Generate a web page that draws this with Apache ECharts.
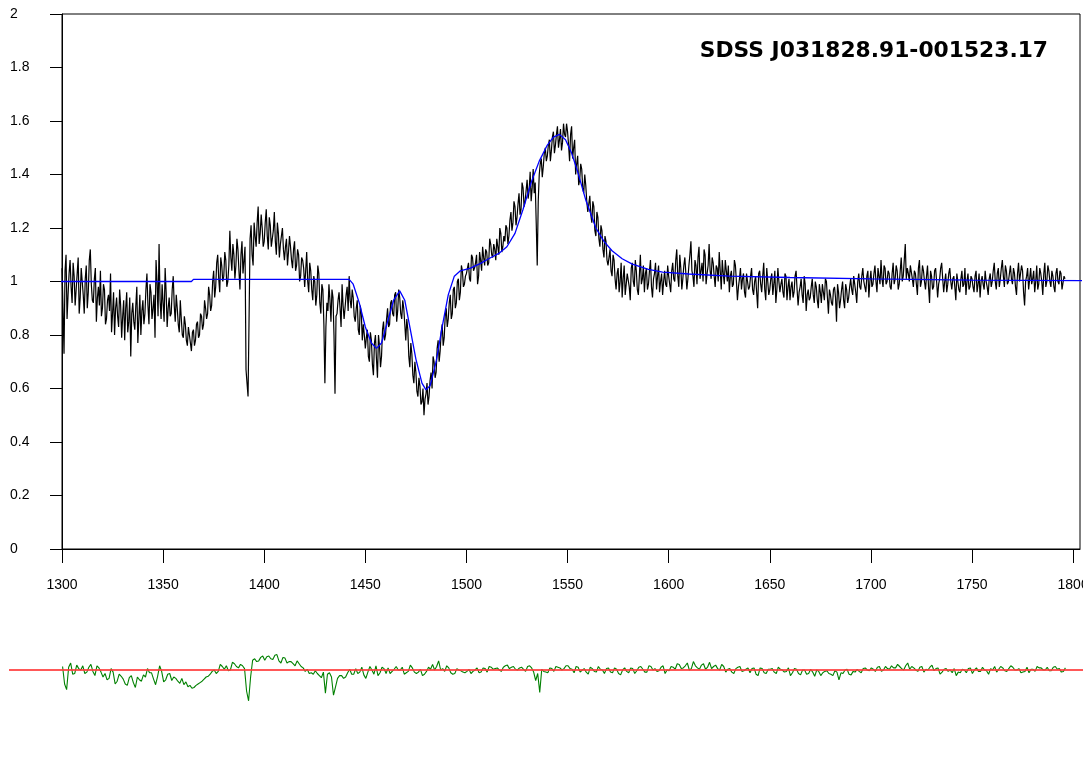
<!DOCTYPE html>
<html>
<head>
<meta charset="UTF-8">
<title>SDSS J031828.91-001523.17</title>
<script src="https://cdn.jsdelivr.net/npm/echarts@6/dist/echarts.min.js"></script>
<style>
  * { margin:0; padding:0; }
  body { background:#fff; }
  #chart { width:1083px; height:775px; }
</style>
</head>
<body>
<div id="chart"></div>
<script>
// spectrum: whole-angstrom samples from 1300, plus the half-angstrom samples between them
const fluxStart = 1300, fluxStep = 1;
const flux = [
  1.05,0.73,1.10,0.95,1.08,0.92,1.02,0.97,1.09,0.94,
  1.00,0.88,1.06,0.96,1.12,0.93,1.01,0.85,0.98,1.04,
  0.90,0.97,0.86,0.95,1.03,0.88,0.80,0.94,0.83,0.91,
  0.87,0.78,0.96,0.85,0.72,0.92,0.82,0.98,0.86,0.80,
  0.93,0.88,1.03,0.84,0.96,0.90,0.79,1.00,1.14,0.86,
  0.92,1.05,0.83,0.94,0.88,1.02,0.85,0.90,0.81,0.86,
  0.79,0.84,0.76,0.80,0.74,0.82,0.78,0.85,0.80,0.87,
  0.84,0.90,0.88,0.95,0.91,1.04,0.98,1.10,0.96,1.06,
  1.02,1.08,1.00,1.19,1.04,1.10,1.06,1.12,0.97,1.15,
  1.08,0.67,0.57,1.16,1.10,1.22,1.13,1.28,1.18,1.20,
  1.15,1.27,1.12,1.21,1.16,1.26,1.10,1.18,1.14,1.20,
  1.08,1.16,1.11,1.13,1.05,1.15,1.06,1.10,1.02,1.08,
  0.98,1.11,0.96,1.04,0.93,1.00,0.95,1.03,0.88,0.97,
  0.62,0.92,0.99,0.85,0.94,0.58,0.88,0.96,0.83,0.91,
  0.86,0.98,1.02,0.90,0.94,0.85,0.93,0.80,0.88,0.84,
  0.75,0.82,0.70,0.78,0.65,0.80,0.64,0.76,0.72,0.85,
  0.80,0.90,0.84,0.93,0.87,0.96,0.89,0.94,0.86,0.90,
  0.78,0.82,0.68,0.73,0.62,0.66,0.57,0.61,0.55,0.50,
  0.58,0.54,0.63,0.60,0.70,0.66,0.78,0.74,0.84,0.79,
  0.90,0.86,0.95,0.88,0.98,0.92,1.01,0.96,1.04,0.99,
  1.03,1.07,1.00,1.09,1.05,1.10,1.02,1.08,1.13,1.06,
  1.11,1.07,1.14,1.09,1.12,1.16,1.10,1.18,1.13,1.15,
  1.20,1.17,1.26,1.22,1.28,1.24,1.33,1.27,1.35,1.30,
  1.38,1.34,1.30,1.42,1.37,1.06,1.40,1.46,1.43,1.50,
  1.47,1.53,1.49,1.56,1.51,1.58,1.53,1.49,1.59,1.54,
  1.56,1.45,1.58,1.50,1.40,1.47,1.38,1.42,1.33,1.36,
  1.26,1.32,1.22,1.28,1.17,1.24,1.13,1.19,1.09,1.15,
  1.06,1.12,1.02,1.08,0.97,1.05,1.00,0.94,1.06,0.99,
  1.03,0.93,1.07,0.98,1.04,0.95,1.10,1.01,0.96,1.05,
  0.99,1.08,0.94,1.03,0.97,1.06,1.00,0.95,1.04,0.98,
  1.02,0.96,1.07,1.00,1.12,0.98,1.05,1.01,1.09,0.97,
  1.06,1.15,1.02,1.08,0.99,1.13,1.04,1.00,1.10,1.03,
  1.14,1.01,1.07,0.98,1.05,1.11,0.97,1.03,1.08,1.00,
  0.96,1.04,0.99,1.06,0.93,1.01,0.97,1.03,0.94,1.00,
  0.98,1.05,0.95,1.02,0.90,1.04,0.96,1.07,0.93,1.00,
  0.97,1.03,0.99,0.92,1.05,0.96,1.01,0.94,1.02,0.98,
  0.93,1.00,0.96,1.04,0.91,0.98,0.95,1.02,0.89,0.97,
  0.94,1.01,0.92,0.98,0.90,0.96,0.99,0.93,1.00,0.88,
  0.95,0.91,0.98,0.85,0.96,0.93,1.00,0.90,0.97,0.94,
  1.01,0.95,0.99,0.92,1.03,0.97,1.05,0.98,1.02,0.94,
  1.04,0.99,1.06,0.96,1.02,1.08,0.98,1.05,1.00,1.03,
  0.97,1.07,1.01,1.04,0.99,1.09,1.02,1.14,1.05,1.00,
  1.06,0.98,1.03,0.95,1.08,1.00,1.04,0.97,1.06,0.92,
  1.02,0.98,1.05,0.94,1.01,1.07,0.96,1.03,0.99,1.05,
  0.97,1.02,0.93,1.00,0.96,1.04,0.99,0.95,1.03,0.98,
  1.01,0.96,1.04,0.99,0.94,1.02,0.97,1.00,0.95,1.03,
  1.00,1.07,0.97,1.05,1.01,1.08,0.98,1.04,1.00,1.06,
  0.99,1.03,0.95,1.07,1.00,1.04,0.91,1.02,0.97,1.05,
  1.01,0.96,1.06,0.99,1.03,0.95,1.07,1.00,1.04,0.98,
  1.02,0.96,1.05,0.99,1.03,0.97,1.01
];
const fluxHalf = [
  0.90,1.04,0.86,1.03,0.98,1.07,0.91,1.03,0.88,1.05,
  0.95,1.01,0.90,1.08,0.99,0.92,1.05,0.94,0.91,0.87,
  0.99,0.84,0.93,0.89,0.81,0.96,0.90,0.87,0.97,0.79,
  0.93,0.90,0.81,0.94,0.88,0.85,0.91,0.77,0.95,0.89,
  0.84,0.97,0.91,0.99,0.86,0.95,1.08,0.87,0.93,0.99,
  0.85,0.96,0.90,0.87,0.97,0.91,0.95,0.84,0.93,0.80,
  0.87,0.78,0.83,0.77,0.81,0.76,0.84,0.79,0.88,0.82,
  0.93,0.86,0.98,0.89,1.00,0.94,1.07,1.01,1.09,1.00,
  1.11,0.98,1.06,1.09,1.14,1.01,1.16,1.04,1.10,1.03,
  1.13,0.62,0.86,1.21,1.06,1.17,1.22,1.14,1.25,1.13,
  1.22,1.17,1.24,1.13,1.19,1.15,1.22,1.09,1.17,1.12,
  1.13,1.06,1.17,1.08,1.12,1.04,1.12,1.00,1.09,1.05,
  1.04,1.00,1.07,0.97,1.02,0.91,1.06,0.92,0.99,0.84,
  0.83,0.89,0.93,0.97,0.80,0.87,0.93,0.90,0.99,0.86,
  0.95,0.89,0.93,0.97,0.87,0.90,0.82,0.91,0.78,0.80,
  0.79,0.72,0.81,0.69,0.77,0.71,0.80,0.68,0.82,0.78,
  0.86,0.83,0.92,0.88,0.95,0.85,0.97,0.88,0.93,0.84,
  0.86,0.72,0.77,0.65,0.70,0.59,0.64,0.54,0.60,0.56,
  0.62,0.57,0.66,0.72,0.64,0.75,0.70,0.81,0.76,0.87,
  0.83,0.92,0.86,0.97,0.90,1.00,0.93,1.06,0.98,1.02,
  1.05,1.01,1.10,1.04,1.07,0.99,1.11,1.04,1.09,1.12,
  1.06,1.16,1.10,1.14,1.08,1.13,1.20,1.11,1.17,1.21,
  1.14,1.23,1.19,1.30,1.21,1.29,1.25,1.37,1.28,1.34,
  1.31,1.41,1.35,1.33,1.22,1.30,1.44,1.39,1.48,1.45,
  1.51,1.45,1.54,1.48,1.55,1.50,1.57,1.52,1.55,1.59,
  1.51,1.55,1.46,1.53,1.44,1.36,1.44,1.35,1.40,1.30,
  1.29,1.25,1.30,1.19,1.26,1.16,1.21,1.12,1.17,1.08,
  1.09,1.04,1.10,1.01,1.03,0.96,1.07,1.01,0.95,1.03,
  0.98,1.05,1.00,1.08,0.97,1.02,0.99,1.06,1.03,0.97,
  1.04,0.98,1.01,1.07,1.02,0.96,1.03,1.00,0.99,1.06,
  0.99,1.04,1.01,1.08,1.02,1.10,0.97,1.06,1.03,1.01,
  1.10,1.04,0.98,1.06,1.09,1.01,1.07,1.12,0.99,1.06,
  1.04,1.09,1.02,1.06,1.00,1.04,1.08,0.99,1.04,1.06,
  1.02,0.98,1.08,1.00,0.98,1.05,1.01,0.96,1.03,0.97,
  1.02,0.97,1.00,0.96,1.03,0.99,1.02,0.97,1.05,0.95,
  1.01,0.95,1.04,0.97,1.00,0.99,0.96,1.03,0.93,1.01,
  0.98,0.94,1.02,0.97,0.96,1.01,0.92,0.99,0.95,0.93,
  0.98,0.95,1.00,0.93,0.99,0.92,0.96,1.01,0.94,0.97,
  0.92,0.97,0.94,0.99,0.90,0.97,0.93,0.99,0.92,0.98,
  0.97,1.02,0.96,1.00,0.98,1.02,1.00,0.96,1.04,1.00,
  0.98,1.03,1.00,1.05,0.99,1.01,1.06,0.99,1.04,0.98,
  1.03,0.99,1.06,0.97,1.04,1.00,1.08,1.01,1.03,1.06,
  1.01,1.04,0.99,1.05,0.98,1.06,1.00,1.02,0.98,1.04,
  0.97,1.04,1.00,0.99,1.05,1.01,1.00,0.96,1.03,1.00,
  1.01,0.98,1.03,0.97,1.01,0.98,1.05,1.00,0.97,1.02,
  0.98,1.02,0.96,1.03,1.00,0.99,1.04,0.98,1.01,0.98,
  1.04,1.00,1.03,0.98,1.05,1.02,1.06,0.99,1.03,1.01,
  1.05,0.98,1.03,1.00,1.06,0.96,1.00,1.05,1.01,0.99,
  1.04,1.00,0.97,1.05,1.00,1.03,0.98,1.06,1.00,1.04,
  0.98,1.03,1.00,1.04,0.97,1.02
];

// fitted model: [wavelength, flux]
const model = [
  [1273.5,1.0],[1364,1.0],[1365,1.008],[1442,1.008],[1444,0.99],[1447,0.92],
  [1450,0.83],[1453,0.77],[1455.5,0.75],[1458,0.77],[1461,0.85],[1464,0.93],
  [1467,0.965],[1469.5,0.93],[1472,0.83],[1475,0.71],[1478,0.62],[1480,0.595],
  [1482,0.61],[1485,0.70],[1488,0.83],[1491,0.95],[1494,1.02],[1497,1.04],
  [1502,1.05],[1507,1.068],[1511,1.085],[1516,1.105],[1520,1.13],[1524,1.18],
  [1528,1.27],[1532,1.37],[1536,1.45],[1540,1.51],[1543,1.54],[1546,1.55],
  [1549,1.53],[1552,1.48],[1555,1.41],[1559,1.305],[1564,1.20],[1568,1.15],
  [1572,1.115],[1577,1.085],[1582,1.065],[1590,1.045],[1597,1.035],[1610,1.028],
  [1630,1.02],[1660,1.015],[1700,1.01],[1750,1.005],[1804.7,1.003]
];

// residuals: even angstroms from 1300, odd angstroms from 1301
const residStart = 1300, residStep = 2;
const resid = [
  0.05,-0.28,0.10,-0.05,0.02,0.06,-0.03,0.08,-0.08,0.03,
  -0.10,-0.14,0.02,-0.20,-0.06,-0.13,-0.22,-0.08,-0.25,-0.14,
  -0.07,0.02,-0.04,-0.21,0.06,-0.17,-0.06,-0.15,-0.12,-0.19,
  -0.21,-0.24,-0.26,-0.22,-0.18,-0.13,-0.09,-0.02,-0.05,0.08,
  0.01,-0.01,0.11,0.05,0.08,0.02,-0.44,0.14,0.12,0.18,
  0.14,0.20,0.15,0.22,0.10,0.17,0.12,0.09,0.13,0.05,
  -0.02,-0.05,-0.06,-0.05,-0.11,-0.33,-0.04,-0.36,-0.12,-0.08,
  -0.10,0.01,-0.06,-0.05,0.04,-0.12,0.05,-0.06,-0.08,0.04,
  -0.05,-0.05,0.01,0.00,0.04,-0.04,0.07,-0.03,-0.03,-0.08,
  -0.02,0.01,0.00,0.13,0.02,0.06,-0.04,-0.05,0.00,-0.03,
  -0.02,-0.05,0.00,-0.04,0.03,-0.03,0.04,0.02,0.00,0.04,
  0.07,0.04,0.01,0.03,0.01,0.05,0.03,-0.15,-0.32,-0.02,
  -0.04,0.02,0.05,0.03,0.02,0.06,0.01,0.05,-0.03,0.02,
  -0.06,0.02,-0.03,0.01,-0.05,0.03,-0.04,0.01,-0.07,0.03,
  -0.04,0.02,-0.01,0.05,-0.03,0.06,0.00,-0.02,0.04,-0.05,
  -0.01,0.04,0.09,0.02,0.06,0.00,0.12,0.03,0.07,0.01,
  0.11,0.05,0.02,0.08,-0.03,0.02,-0.05,0.04,-0.02,0.01,
  -0.04,0.03,-0.08,0.02,-0.05,0.01,-0.03,0.04,0.00,-0.02,
  -0.08,0.02,-0.05,0.00,-0.06,0.01,-0.09,-0.02,-0.04,-0.01,
  -0.06,-0.01,-0.14,-0.05,0.01,-0.07,-0.03,-0.02,0.02,0.00,
  0.03,-0.02,0.05,0.00,0.02,0.06,0.03,0.05,0.00,0.10,
  0.05,0.00,0.04,-0.03,0.00,0.07,0.02,-0.06,0.01,-0.02,
  -0.04,-0.08,-0.04,0.00,0.02,-0.05,0.03,-0.02,0.00,-0.06,
  0.00,-0.03,0.05,-0.01,0.02,0.04,0.00,-0.04,-0.02,-0.04,
  0.01,0.05,0.03,0.00,-0.01,0.04,0.01,-0.03,0.03
];
const residOdd = [
  -0.20,0.04,-0.06,0.07,0.00,-0.05,0.04,-0.02,0.06,-0.03,
  -0.05,-0.12,-0.03,-0.16,-0.09,-0.20,-0.11,-0.18,-0.10,-0.16,
  -0.10,-0.04,-0.13,-0.09,-0.02,-0.14,-0.05,-0.10,-0.16,-0.12,
  -0.17,-0.22,-0.25,-0.20,-0.16,-0.10,-0.06,0.00,-0.02,0.05,
  0.06,0.00,0.09,0.03,0.06,-0.30,-0.10,0.16,0.13,0.20,
  0.19,0.16,0.21,0.13,0.18,0.10,0.12,0.06,0.09,0.03,
  0.01,-0.04,-0.01,-0.08,-0.03,-0.06,-0.10,-0.24,-0.08,-0.12,
  -0.04,-0.06,0.02,-0.03,-0.07,-0.03,0.00,0.06,-0.04,0.02,
  0.03,-0.02,0.05,0.00,-0.06,-0.02,0.03,-0.05,0.01,-0.06,
  0.04,0.08,0.05,0.00,-0.02,0.03,-0.06,0.02,-0.01,-0.04,
  0.01,-0.02,0.03,-0.03,0.02,0.05,0.01,0.03,-0.02,0.06,
  0.02,0.05,0.00,0.04,-0.02,0.06,-0.03,-0.05,0.01,-0.03,
  0.03,-0.02,0.04,0.00,0.06,0.02,-0.04,0.04,0.00,-0.03,
  0.04,-0.02,0.05,0.00,0.02,-0.03,0.03,-0.05,0.00,-0.02,
  0.03,-0.05,0.04,0.01,-0.03,0.05,0.02,-0.01,0.06,0.00,
  0.05,0.01,0.08,0.03,0.10,0.02,0.06,0.01,0.09,0.04,
  0.02,0.07,0.00,0.05,0.01,-0.03,0.02,0.05,-0.01,0.03,
  0.02,-0.06,0.03,-0.04,0.01,0.02,-0.05,0.01,-0.03,0.03,
  -0.04,0.01,-0.07,0.00,-0.05,-0.03,0.00,-0.08,-0.02,-0.05,
  -0.08,-0.03,-0.04,0.00,-0.06,-0.02,0.01,-0.04,0.03,-0.01,
  0.01,0.04,-0.02,0.05,0.01,0.03,0.08,0.02,0.06,0.01,
  0.03,-0.02,0.05,0.01,0.04,-0.01,0.03,-0.03,0.02,0.00,
  0.02,-0.03,0.01,-0.04,0.03,0.00,-0.02,0.04,-0.01,0.02,
  0.05,0.01,0.03,-0.02,0.06,0.00,0.02,-0.03,0.04,0.01,
  -0.02,0.03,0.00,0.04,-0.01,0.05,0.02,-0.02
];

const xTicks = [1300,1350,1400,1450,1500,1550,1600,1650,1700,1750,1800];
const yTicks = [0,0.2,0.4,0.6,0.8,1,1.2,1.4,1.6,1.8,2];
const titleText = 'SDSS J031828.91-001523.17';

const fluxData = [];
flux.forEach((v, i) => {
  fluxData.push([fluxStart + i * fluxStep, v]);
  if (i < fluxHalf.length) fluxData.push([fluxStart + i * fluxStep + fluxStep / 2, fluxHalf[i]]);
});
const residData = [];
resid.forEach((v, i) => {
  residData.push([residStart + i * residStep, v]);
  if (i < residOdd.length) residData.push([residStart + i * residStep + residStep / 2, residOdd[i]]);
});

const font = "'Liberation Sans', Arial, sans-serif";
const chart = echarts.init(document.getElementById('chart'));
chart.setOption({
  animation: false,
  backgroundColor: '#fff',
  title: {
    text: titleText, right: 30, top: 35,
    textStyle: { fontFamily: "'DejaVu Sans', sans-serif", fontSize: 21.8, fontWeight: 'bold', color: '#000' }
  },
  grid: [
    { left: 62, right: 3, top: 14, height: 535, show: true, borderColor: '#000', borderWidth: 1,
      outerBoundsMode: 'none', containLabel: false },
    { left: 9, right: 0, top: 600, height: 140, outerBoundsMode: 'none', containLabel: false }
  ],
  xAxis: [
    {
      gridIndex: 0, type: 'value', min: 1300, max: 1803.4,
      axisLine: { lineStyle: { color: '#000', width: 1 } },
      axisTick: { customValues: xTicks, length: 14, lineStyle: { color: '#000' } },
      axisLabel: { customValues: xTicks, margin: 29, color: '#000', fontSize: 14, fontFamily: font,
        formatter: v => String(v) },
      splitLine: { show: false }
    },
    { gridIndex: 1, type: 'value', min: 1273.5, max: 1804.7, show: false }
  ],
  yAxis: [
    {
      gridIndex: 0, type: 'value', min: 0, max: 2,
      axisLine: { show: true, lineStyle: { color: '#000', width: 1 } },
      axisTick: { show: true, customValues: yTicks, length: 12, lineStyle: { color: '#000' } },
      axisLabel: { customValues: yTicks, align: 'left', margin: 52, color: '#000', fontSize: 14, fontFamily: font,
        formatter: v => String(v) },
      splitLine: { show: false }
    },
    { gridIndex: 1, type: 'value', min: -1, max: 1, show: false }
  ],
  series: [
    {
      type: 'line', xAxisIndex: 0, yAxisIndex: 0, data: fluxData,
      showSymbol: false, lineStyle: { color: '#000', width: 1.2 }
    },
    {
      type: 'line', xAxisIndex: 0, yAxisIndex: 0, data: model, clip: false,
      showSymbol: false, lineStyle: { color: '#0000ff', width: 1.3 }
    },
    {
      type: 'line', xAxisIndex: 1, yAxisIndex: 1, data: residData,
      showSymbol: false, lineStyle: { color: '#008000', width: 1.1 }, z: 3,
      markLine: {
        silent: true, symbol: 'none', label: { show: false },
        lineStyle: { color: '#ff3b3b', width: 2, type: 'solid', opacity: 0.85 },
        data: [{ yAxis: 0 }]
      }
    }
  ]
});
</script>
</body>
</html>
